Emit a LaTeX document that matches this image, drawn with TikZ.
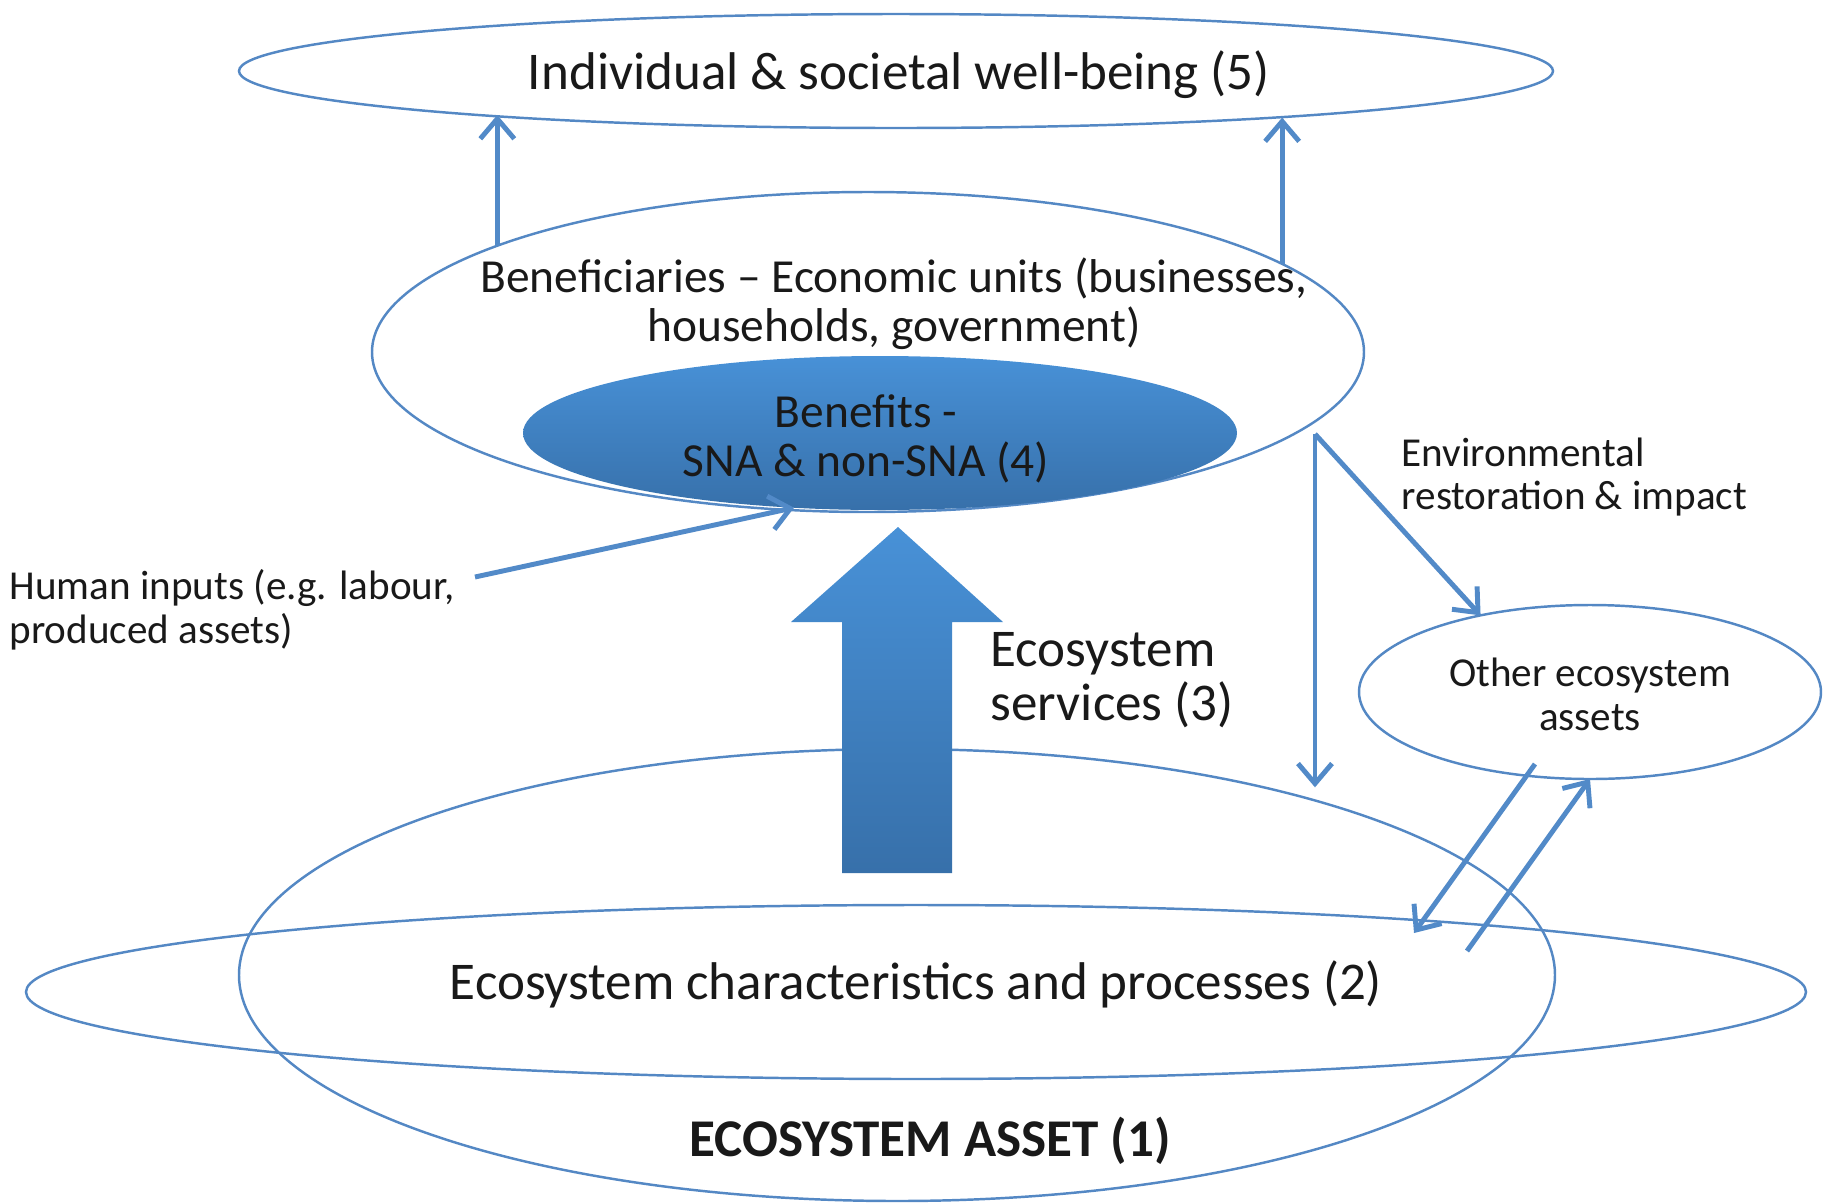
\documentclass[tikz,border=0pt]{standalone}
\usepackage{fontspec}
\setmainfont{Carlito}
\usetikzlibrary{arrows.meta,shapes.geometric}

\definecolor{lineblue}{RGB}{84,136,196}
\definecolor{arrowblue}{RGB}{82,138,200}
\definecolor{filltop}{RGB}{72,145,215}
\definecolor{fillbot}{RGB}{55,112,170}

\newcommand{\bigfont}{\fontsize{15.1}{15.4}\selectfont}
\newcommand{\midfont}{\fontsize{13.5}{13.9}\selectfont}
\newcommand{\smallfont}{\fontsize{11.7}{12.5}\selectfont}

\tikzset{
	ring/.style={ellipse, draw=lineblue, line width=0.7pt, inner sep=0pt, outer sep=0pt},
	flow/.style={draw=arrowblue, line width=1.4pt, -{Straight Barb[length=2mm,width=3.4mm]}},
	txt/.style={inner sep=0pt, align=center, text=black!90},
}

\begin{document}
\begin{tikzpicture}
	%%%%% START %%%%%
	\useasboundingbox (0,0) rectangle (18.29,-12.03);
	
	% ecosystem asset and its characteristics
	\node[ring, minimum width=13.16cm, minimum height=4.52cm] (asset) at (8.97,-9.75) {};
	\node[ring, minimum width=17.80cm, minimum height=1.74cm] (chars) at (9.16,-9.92) {};
	\node[txt, font=\bigfont] (charstext) at (9.16,-9.84) {Ecosystem characteristics and processes (2)};
	\node[txt, font=\bigfont\bfseries] (assettext) at (9.30,-11.41) {ECOSYSTEM ASSET (1)};
	
	% well-being and beneficiaries
	\node[ring, minimum width=13.14cm, minimum height=1.14cm] (well) at (8.96,-0.71) {};
	\node[txt, font=\bigfont] (welltext) at (8.99,-0.75) {Individual \& societal well-being (5)};
	\node[ring, minimum width=9.92cm, minimum height=3.20cm] (benef) at (8.68,-3.52) {};
	\node[txt, font=\midfont] (beneftext) at (8.94,-3.04) {Beneficiaries -- Economic units (businesses,\\households, government)};
	\node[ring, draw=none, top color=filltop, bottom color=fillbot, minimum width=7.14cm, minimum height=1.54cm] (benefits) at (8.80,-4.33) {};
	\node[txt, font=\midfont] (benefitstext) at (8.66,-4.39) {Benefits -\\SNA \& non-SNA (4)};
	
	\node[ring, minimum width=4.62cm, minimum height=1.74cm] (other) at (15.90,-6.92) {};
	\node[txt, font=\smallfont] (othertext) at (15.90,-6.94) {Other ecosystem\\assets};
	
	% ecosystem services
	\shade[top color=filltop, bottom color=fillbot] (8.42,-8.73) -- (8.42,-6.22) -- (7.91,-6.22) -- (8.98,-5.27) -- (10.03,-6.22) -- (9.52,-6.22) -- (9.52,-8.73) -- cycle;
	\node[txt, anchor=west, align=left, font=\bigfont] (services) at (9.90,-6.80) {Ecosystem\\services (3)};
	
	\node[txt, anchor=west, align=left, font=\smallfont] (human) at (0.09,-6.10) {Human inputs (e.g. labour,\\produced assets)};
	\node[txt, anchor=west, align=left, font=\smallfont] (envtext) at (14.01,-4.77) {Environmental\\restoration \& impact};
	
	% connectors
	\draw[flow] (benef.164.5) -- (benef.164.5 |- well.186);
	\draw[flow] (benef.12) -- (benef.12 |- well.-7);
	
	\coordinate (hin) at (4.75,-5.77);
	\draw[flow] (hin) -- (benefits.221);
	
	\coordinate (fork) at (13.15,-4.34);
	\draw[flow] (fork) -- (other.145);
	\draw[flow, shorten >=1.2mm] (fork) -- (fork |- asset.23);
	
	\coordinate (a0) at (15.35,-7.64);
	\coordinate (a1) at (14.14,-9.33);
	\coordinate (b0) at (14.67,-9.51);
	\draw[flow] (a0) -- (a1);
	\draw[flow] (b0) -- (other.south);
	
	%%%%% END %%%%%
\end{tikzpicture}
\end{document}
